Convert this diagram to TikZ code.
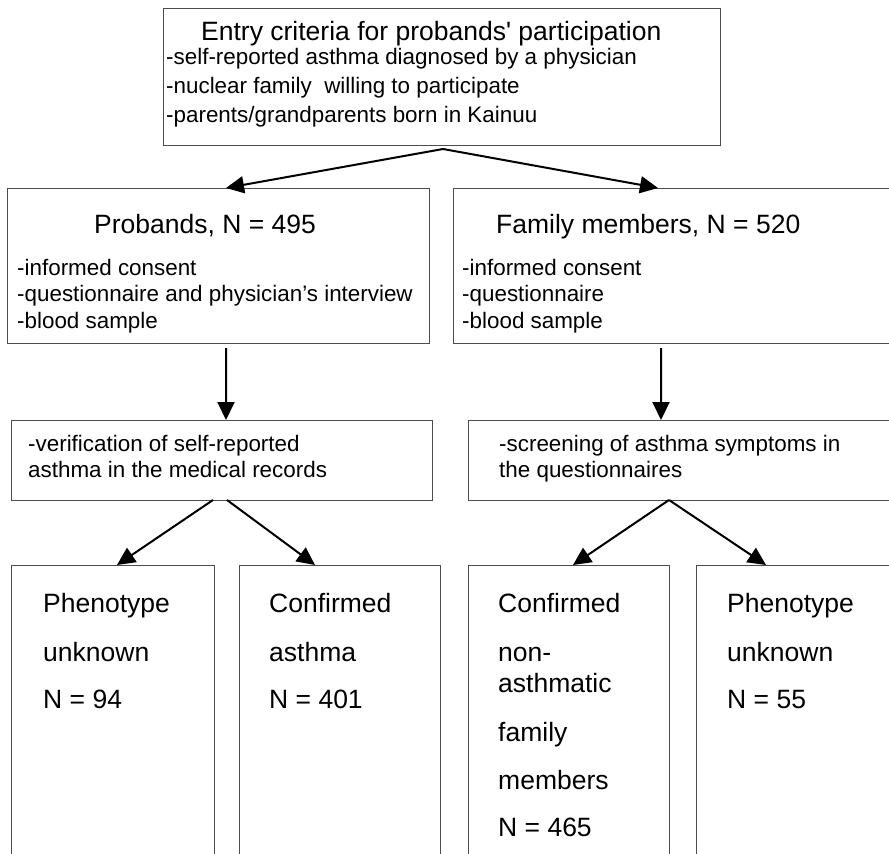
\documentclass[tikz,border=0pt]{standalone}
\usepackage{fontspec}
\setmainfont{Liberation Sans}
\usetikzlibrary{arrows.meta}

\begin{document}
\begin{tikzpicture}[x=1bp,y=-1bp]

% box and text styles
\tikzset{
  box/.style={draw=black!70, line width=0.8bp, inner sep=0pt, outer sep=0pt, anchor=north west},
  head/.style={font=\fontsize{26.5bp}{30bp}\selectfont, inner sep=0pt, anchor=base west},
  body/.style={font=\fontsize{22.4bp}{26bp}\selectfont, inner sep=0pt, anchor=base west},
  arr/.style={draw=black, line width=2bp, -{Triangle[length=18bp,width=17bp]}}
}

\useasboundingbox (0,0) rectangle (889,854);

% ===== boxes =====
\node[box, minimum width=557bp, minimum height=137bp] (entry) at (163,8) {};
\node[box, minimum width=422bp, minimum height=155bp] (probands) at (7,188) {};
\node[box, minimum width=447bp, minimum height=155bp] (family) at (453,188) {};
\node[box, minimum width=421bp, minimum height=80bp] (verify) at (11,420) {};
\node[box, minimum width=432bp, minimum height=80bp] (screen) at (468,420) {};
\foreach \n/\x/\w in {unknownA/11/203, asthma/239/201, nonasth/468/201, unknownB/696/204} {
  \node[box, minimum width=\w bp, minimum height=305bp] (\n) at (\x,565) {};
}

% ===== texts =====
\node[head] (entrytitle) at (201,40) {Entry criteria for probands\textquotesingle{} participation};
\foreach \t/\yy [count=\i] in {
  {-self-reported asthma diagnosed by a physician}/64,
  {-nuclear family\ \ willing to participate}/93,
  {-parents/grandparents born in Kainuu}/122
} {
  \node[body] (entry\i) at (166,\yy) {\t};
}

\node[head] (probtitle) at (94,233) {Probands, N = 495};
\node[head] (famtitle) at (496,233) {Family members, N = 520};
\foreach \t/\yy [count=\i] in {
  {-informed consent}/275,
  {-questionnaire and physician’s interview}/301,
  {-blood sample}/328
} {
  \node[body] (prob\i) at (17,\yy) {\t};
}
\foreach \t/\yy [count=\i] in {
  {-informed consent}/275,
  {-questionnaire}/301,
  {-blood sample}/328
} {
  \node[body] (fam\i) at (462,\yy) {\t};
}

\node[body] (verify1) at (28,451) {-verification of self-reported};
\node[body] (verify2) at (28,477) {asthma in the medical records};
\node[body] (screen1) at (499,451) {-screening of asthma symptoms in};
\node[body] (screen2) at (499,477) {the questionnaires};

% bottom row
\foreach \t/\yy [count=\i] in {Phenotype/612, unknown/661, {N = 94}/708} {
  \node[head] (unkA\i) at (43,\yy) {\t};
}
\foreach \t/\yy [count=\i] in {Confirmed/612, asthma/661, {N = 401}/708} {
  \node[head] (asth\i) at (269,\yy) {\t};
}
\foreach \t/\yy [count=\i] in {Confirmed/612, non-/661, asthmatic/692, family/741, members/789, {N = 465}/836} {
  \node[head] (non\i) at (498,\yy) {\t};
}
\foreach \t/\yy [count=\i] in {Phenotype/612, unknown/661, {N = 55}/708} {
  \node[head] (unkB\i) at (727,\yy) {\t};
}

% ===== connectors =====
\coordinate (fork) at (443,149);
\draw[arr] (fork) -- ([xshift=8bp]probands.north);
\draw[arr] (fork) -- ([xshift=-18.5bp]family.north);

\draw[arr] ([xshift=8bp,yshift=-5bp]probands.south) -- ([xshift=4.5bp]verify.north);
\draw[arr] ([xshift=-15.5bp,yshift=-5bp]family.south) -- ([xshift=-23bp]screen.north);

\draw[arr] ([xshift=-8.5bp]verify.south) -- ([xshift=4.5bp]unknownA.north);
\draw[arr] ([xshift=5.5bp]verify.south) -- ([xshift=-24.5bp]asthma.north);
\draw[arr] ([xshift=-15bp]screen.south) -- ([xshift=4.5bp]nonasth.north);
\draw[arr] ([xshift=-15bp]screen.south) -- ([xshift=-32bp]unknownB.north);

\end{tikzpicture}
\end{document}
